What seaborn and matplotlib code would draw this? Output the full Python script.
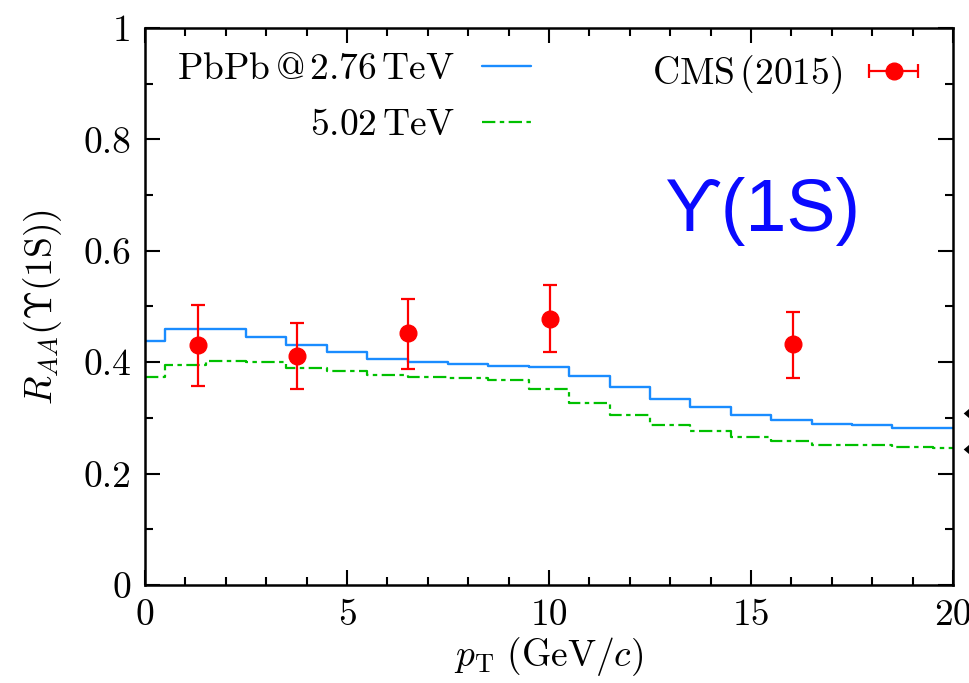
import numpy as np
import pandas as pd
import matplotlib
matplotlib.use("Agg")
import matplotlib.pyplot as plt
from matplotlib.ticker import MultipleLocator, FuncFormatter
from matplotlib.legend_handler import HandlerErrorbar
import seaborn as sns

# ---- data ----
bin_edges = [0, 0.5, 1.5, 2.5, 3.5, 4.5, 5.5, 6.5, 7.5, 8.5, 9.5, 10.5,
             11.5, 12.5, 13.5, 14.5, 15.5, 16.5, 17.5, 18.5, 19.5, 20]
raa_276 = [0.438, 0.459, 0.459, 0.446, 0.431, 0.418, 0.406, 0.400, 0.396, 0.394,
           0.391, 0.376, 0.355, 0.334, 0.319, 0.306, 0.297, 0.289, 0.287, 0.282, 0.282]
raa_502 = [0.373, 0.395, 0.402, 0.400, 0.390, 0.384, 0.377, 0.373, 0.372, 0.368,
           0.351, 0.326, 0.305, 0.287, 0.276, 0.265, 0.258, 0.251, 0.251, 0.248, 0.246]

cms_pt = [1.3, 3.76, 6.51, 10.02, 16.04]
cms_raa = [0.431, 0.411, 0.452, 0.478, 0.432]
cms_err_lo = [0.074, 0.059, 0.064, 0.060, 0.061]
cms_err_hi = [0.072, 0.059, 0.061, 0.061, 0.059]

arrow_y = [0.309, 0.244]

label_276 = r"PbPb$\,$@$\,$2.76$\,$TeV"
label_502 = r"5.02$\,$TeV"
label_cms = r"CMS$\,$(2015)"
state_label = "\u03d2(1S)"

# ---- style ----
sns.set_theme(style="ticks")
plt.rcParams["font.family"] = ["cmr10", "DejaVu Serif"]
plt.rcParams["mathtext.fontset"] = "cm"
plt.rcParams["axes.formatter.use_mathtext"] = True
plt.rcParams["axes.unicode_minus"] = False
for k in ["text.color", "axes.labelcolor", "xtick.color", "ytick.color",
          "axes.edgecolor", "legend.labelcolor"]:
    plt.rcParams[k] = "black"

fig = plt.figure(figsize=(9.70, 6.83), dpi=100)
ax = fig.add_axes([145 / 970, 1 - 585 / 683, (953 - 145) / 970, (585 - 28) / 683])

def step_frame(vals):
    return pd.DataFrame({"pt": bin_edges, "raa": list(vals) + [vals[-1]]})

blue = "#1a8cff"
green = "#00c000"
red = "#ff0000"

sns.lineplot(data=step_frame(raa_276), x="pt", y="raa", ax=ax, color=blue,
             lw=1.7, drawstyle="steps-post", estimator=None, sort=False,
             label=label_276)
sns.lineplot(data=step_frame(raa_502), x="pt", y="raa", ax=ax, color=green,
             lw=1.6, drawstyle="steps-post", estimator=None, sort=False,
             dashes=False, label=label_502)
ax.lines[-1].set_dashes((6, 2, 2, 2))

ax.errorbar(cms_pt, cms_raa, yerr=[cms_err_lo, cms_err_hi], fmt="o",
            color=red, ms=12, lw=1.6, capsize=5, capthick=1.6,
            label="_nolegend_", zorder=5)
# legend proxy (horizontal error bar, as in the original key)
eb_proxy = ax.errorbar([np.nan], [np.nan], xerr=[1.0], fmt="o", color=red,
                       ms=12, lw=1.6, capsize=5, capthick=1.6, label=label_cms)

arrow_marker = [(-1, 0), (1, 1.7), (1, -1.7), (-1, 0)]
ax.plot([20.49] * len(arrow_y), arrow_y, ls="none", marker=arrow_marker,
        color="black", ms=24, mew=0, clip_on=False)

ax.set_xlim(0, 20)
ax.set_ylim(0, 1)
ax.xaxis.set_major_locator(MultipleLocator(5))
ax.xaxis.set_minor_locator(MultipleLocator(1))
ax.yaxis.set_major_locator(MultipleLocator(0.2))
ax.yaxis.set_minor_locator(MultipleLocator(0.1))
ax.yaxis.set_major_formatter(FuncFormatter(lambda v, p: "%g" % round(v, 3)))
ax.xaxis.set_major_formatter(FuncFormatter(lambda v, p: "%g" % v))
ax.tick_params(which="both", direction="in", top=True, right=True,
               labelsize=27, width=1.5, colors="black", pad=10)
ax.tick_params(which="major", length=11)
ax.tick_params(which="minor", length=6)
for s in ax.spines.values():
    s.set_linewidth(1.8)
    s.set_color("black")

ax.set_xlabel(r"$p_{\mathrm{T}}\ (\mathrm{GeV}/c)$", fontsize=27, labelpad=2)
ax.set_ylabel(r"$R_{AA}\left(\Upsilon(1\mathrm{S})\right)$", fontsize=27, labelpad=14)

handles, labels = ax.get_legend_handles_labels()
h_lines = [h for h, l in zip(handles, labels) if l in (label_276, label_502)]
l_lines = [l for l in labels if l in (label_276, label_502)]
leg1 = ax.legend(h_lines, l_lines, loc="upper right",
                 bbox_to_anchor=((531 - 145) / 808, (585 - 53) / 557),
                 frameon=False, fontsize=27, markerfirst=False,
                 handlelength=1.3, handletextpad=0.72, labelspacing=0.6,
                 borderaxespad=0, borderpad=0)
ax.add_artist(leg1)
ax.legend([eb_proxy], [label_cms], loc="upper right",
          bbox_to_anchor=((918 - 145) / 808, (585 - 53) / 557),
          frameon=False, fontsize=27, markerfirst=False, handlelength=1.3,
          handletextpad=0.72, borderaxespad=0, borderpad=0,
          handler_map={type(eb_proxy): HandlerErrorbar(xerr_size=0.65)})

ax.text(15.3, 0.67, state_label, color="#0a0aff", fontsize=53,
        family=["Liberation Sans", "DejaVu Sans"], ha="center", va="center")

fig.savefig("out.png", dpi=100)
